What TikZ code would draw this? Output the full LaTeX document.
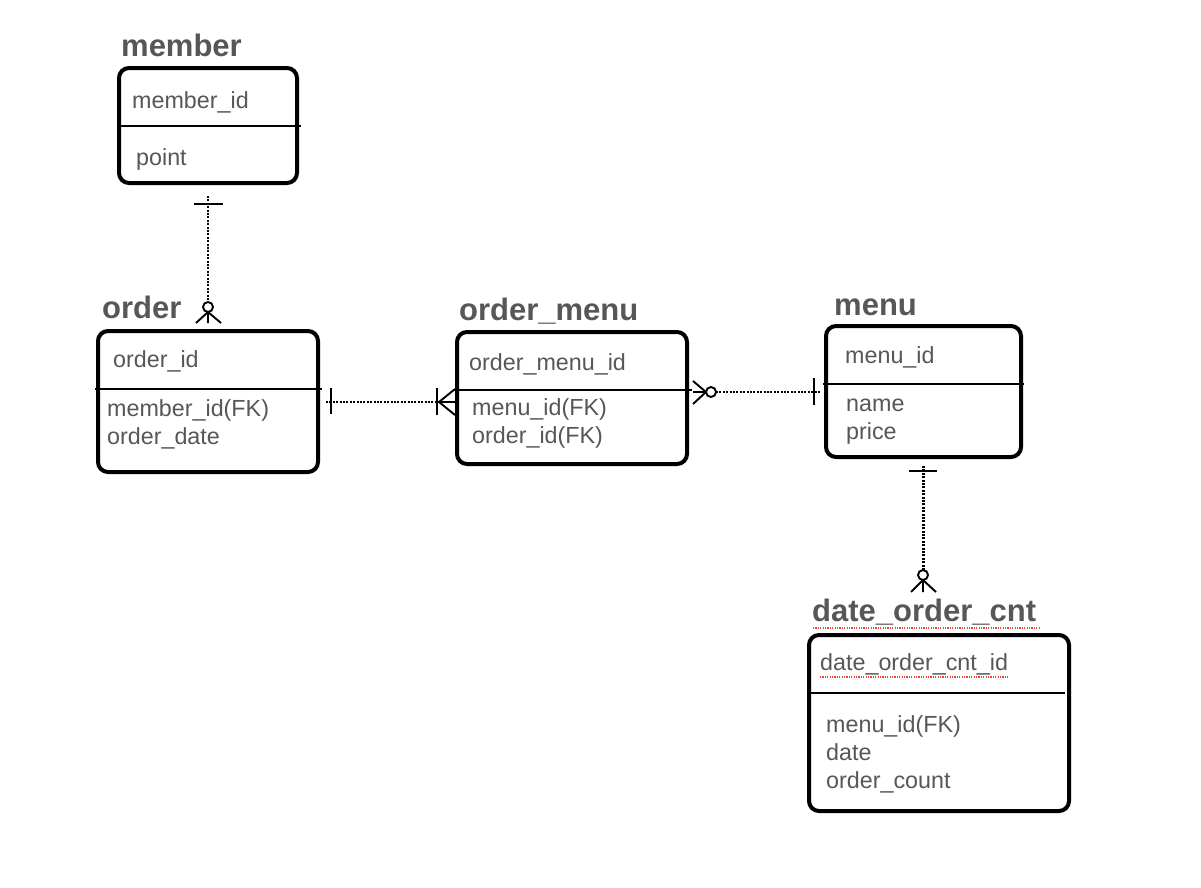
\documentclass[tikz,border=0pt]{standalone}
\usepackage{fontspec}
\setmainfont{Liberation Sans}
\usetikzlibrary{calc}
\definecolor{txtgray}{HTML}{575757}
\definecolor{spellred}{HTML}{E8473C}
\tikzset{
  entity/.style={draw=black, line width=4pt, rounded corners=10pt, fill=white, inner sep=0pt},
  etitle/.style={anchor=base west, inner sep=0pt, text=txtgray, font=\fontsize{31}{34}\selectfont\bfseries},
  attr/.style={anchor=base west, inner sep=0pt, text=txtgray, font=\fontsize{23.3}{28}\selectfont},
  divider/.style={line width=2pt, black},
  rel/.style={line width=2.2pt, dash pattern=on 2pt off 1.4pt, black},
  ermark/.style={line width=1.9pt, black},
  spell/.style={line width=1.2pt, spellred, dash pattern=on 1.2pt off 1.2pt}
}
\begin{document}
\begin{tikzpicture}[x=1pt, y=-1pt]
\useasboundingbox (0,0) rectangle (1201,887);
\fill[white] (0,0) rectangle (1201,887);

% entities
\node[entity, minimum width=178pt, minimum height=115pt] (member) at (208,125.5) {};
\node[entity, minimum width=220pt, minimum height=141pt] (order) at (208,401.5) {};
\node[entity, minimum width=230pt, minimum height=132pt] (ordermenu) at (572,398) {};
\node[entity, minimum width=195pt, minimum height=131pt] (menu) at (923.5,391.5) {};
\node[entity, minimum width=260pt, minimum height=176pt] (doc) at (939,723) {};

% dividers
\draw[divider] (117,126) -- (301,126);
\draw[divider] (95,389) -- (322,389);
\draw[divider] (453,390) -- (692,390);
\draw[divider] (823,384) -- (1024,384);
\draw[divider] (811,693) -- (1065,693);

% titles
\node[etitle] (tmember) at (121,56) {member};
\node[etitle] (torder) at (102,318) {order};
\node[etitle] (tordermenu) at (459,320) {order\_menu};
\node[etitle] (tmenu) at (834,315) {menu};
\node[etitle] (tdoc) at (812,621) {date\_order\_cnt};

% attributes
\node[attr] (a1) at (132,108) {member\_id};
\node[attr] (a2) at (136,165) {point};
\node[attr] (a3) at (113,367) {order\_id};
\node[attr] (a4) at (107,416) {member\_id(FK)};
\node[attr] (a5) at (107,444) {order\_date};
\node[attr] (a6) at (469,370) {order\_menu\_id};
\node[attr] (a7) at (472,415) {menu\_id(FK)};
\node[attr] (a8) at (472,443) {order\_id(FK)};
\node[attr] (a9) at (845,363) {menu\_id};
\node[attr] (a10) at (846,411) {name};
\node[attr] (a11) at (846,439) {price};
\node[attr] (a12) at (820,670) {date\_order\_cnt\_id};
\node[attr] (a13) at (826,732) {menu\_id(FK)};
\node[attr] (a14) at (826,760) {date};
\node[attr] (a15) at (826,788) {order\_count};

% spell-check underlines
\draw[spell] (813,628) -- (1039,628);
\draw[spell] (820,677) -- (1009,677);

% connector member -- order
\draw[rel, shorten <=11pt, shorten >=28pt] (member.south) -- (order.north);
\draw[ermark] (194,204) -- (223,204);
\draw[ermark] (208,307) circle (5pt);
\draw[ermark] (208,312) -- (196,323) (208,312) -- (208,323) (208,312) -- (221,323);

% connector order -- order_menu
\draw[rel, shorten <=6pt, shorten >=16pt] (order.east |- 0,402) -- (ordermenu.west |- 0,402);
\draw[ermark] (331,388) -- (331,414);
\draw[ermark] (437,388) -- (437,415);
\draw[ermark] (439,402) -- (455,389) (439,402) -- (455,402) (439,402) -- (455,415);

% connector order_menu -- menu
\draw[rel, shorten <=27pt, shorten >=4pt] (ordermenu.east |- 0,392) -- (menu.west |- 0,392);
\draw[ermark] (693,381) -- (706,392) (693,392) -- (706,392) (693,404) -- (706,392);
\draw[ermark] (711,392) circle (5pt);
\draw[ermark] (814,378) -- (814,405);

% connector menu -- date_order_cnt
\draw[rel, shorten <=7pt, shorten >=63pt] (menu.south) -- (menu.south |- doc.north);
\draw[ermark] (909,471) -- (937,471);
\draw[ermark] (923,575) circle (5pt);
\draw[ermark] (923,580) -- (911,592) (923,580) -- (923,592) (923,580) -- (936,592);
\end{tikzpicture}
\end{document}
